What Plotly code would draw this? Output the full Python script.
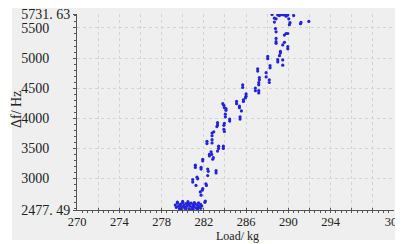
import plotly.graph_objects as go

# Load (kg) and frequency shift (Hz)
load_kg = [
    # low cluster
    279.3, 279.4, 279.5, 279.6, 279.7, 279.8, 279.9, 280.0, 280.1, 280.2,
    280.3, 280.4, 280.5, 280.6, 280.7, 280.8, 280.9, 281.0, 281.1, 281.2,
    281.3, 281.4, 281.5, 281.6, 281.7, 281.8, 279.5, 279.9, 280.2, 280.5,
    280.8, 281.1, 281.4, 281.7, 280.0, 280.6, 281.0, 281.5, 279.7, 280.3,
    279.8,
    # rising band
    282.15, 282.1, 281.74, 281.67, 281.9, 281.85, 282.2, 282.25, 280.95, 280.95,
    281.26, 281.36, 281.42, 281.2, 281.2, 281.74, 281.74, 281.9, 281.9, 282.37,
    282.42, 282.37, 283.16, 283.16, 282.53, 282.53, 282.69, 282.75, 282.9, 282.84,
    282.3, 282.3, 282.78, 282.78, 282.78, 282.78, 282.94, 283.3, 283.3, 283.24,
    283.4, 283.4, 283.3, 283.85, 283.85, 283.95, 283.9, 283.95, 283.9, 284.04,
    284.04, 284.1, 284.1, 283.8, 283.9, 283.95, 284.45, 284.45, 285.1, 285.1,
    285.37, 285.37, 285.56, 285.43, 285.43, 285.75, 285.75, 285.94, 286.0, 286.0,
    285.68, 285.68, 286.88, 286.88, 287.2, 287.2, 287.2, 287.2, 287.26, 287.26,
    287.1, 287.1, 287.9, 287.9, 288.2, 288.2, 288.27, 288.27, 288.05, 288.05,
    289.0, 289.0, 289.16, 289.25, 289.25, 289.47, 289.47, 289.47, 289.63, 289.95,
    289.95, 289.63, 289.79, 289.95, 288.84, 288.84, 288.84, 288.84, 288.78, 288.68,
    288.84, 288.68, 288.46, 289.0, 289.16, 289.37, 289.56, 289.72, 289.79, 289.95,
    290.04, 290.1, 290.16, 290.5, 291.15, 291.2, 291.94,
]
delta_f_hz = [
    # low cluster
    2560, 2520, 2590, 2540, 2500, 2575, 2530, 2600, 2555, 2510,
    2585, 2540, 2570, 2500, 2545, 2590, 2520, 2565, 2535, 2580,
    2510, 2555, 2595, 2530, 2570, 2545, 2610, 2490, 2525, 2615,
    2480, 2600, 2490, 2505, 2620, 2585, 2495, 2520, 2545, 2500,
    2477.49,
    # rising band
    2626, 2605, 2723, 2778, 2832, 2805, 2913, 2886, 2984, 2941,
    2886, 3022, 2995, 3222, 3184, 3184, 3157, 3320, 3293, 3157,
    3119, 3049, 3130, 3092, 3401, 3374, 3445, 3401, 3347, 3320,
    3618, 3580, 3645, 3591, 3754, 3710, 3775, 3889, 3927, 3862,
    3537, 3499, 3455, 3537, 3499, 3781, 3818, 3916, 3884, 4025,
    4068, 4133, 4160, 4242, 4215, 4177, 3987, 3954, 4280, 4242,
    4204, 4177, 4123, 4025, 3987, 4307, 4280, 4340, 4405, 4367,
    4556, 4513, 4502, 4459, 4459, 4421, 4594, 4556, 4676, 4638,
    4822, 4784, 4757, 4687, 4638, 4594, 4876, 4838, 5028, 4990,
    4974, 4936, 5039, 5110, 5083, 4969, 4882, 5218, 5261, 5191,
    5153, 5381, 5408, 5408, 5272, 5245, 5326, 5435, 5489, 5598,
    5652, 5663, 5722, 5717, 5706, 5722, 5717, 5722, 5695, 5717,
    5652, 5554, 5587, 5706, 5570, 5592, 5608,
]

x_tickvals = [270, 272, 274, 276, 278, 280, 282, 284, 286, 288, 290, 292, 294, 296, 298, 300]
x_ticktext = ["270", "", "274", "", "278", "", "282", "", "286", "", "290", "", "294", "", "", "300"]
y_tickvals = [2477.49, 3000, 3500, 4000, 4500, 5000, 5500, 5731.63]
y_ticktext = ["2477. 49", "3000", "3500", "4000", "4500", "5000", "5500", "5731. 63"]
x_title = "Load/ kg"
y_title = "Δf/ Hz"

NB = "\u00a0"
y_ticktext_padded = [t if len(t) > 4 else t + NB * 6 for t in y_ticktext]

# page has an 8px body margin; figure coordinates = page coordinates - 8
OFF = 8
W, H = 403 - OFF, 244 - OFF
L, R, T, B = 77 - OFF, 9, 14 - OFF, 34
pw, ph = W - L - R, H - T - B


def pagex(px):
    return (px - OFF - L) / pw


def pagey(py):
    return (H - B - (py - OFF)) / ph


fig = go.Figure()
fig.add_trace(go.Scatter(
    x=load_kg, y=delta_f_hz, mode="markers",
    marker=dict(size=3.2, color="#2323dc", line=dict(width=0)),
    showlegend=False, cliponaxis=True,
))

fig.add_shape(type="rect", xref="paper", yref="paper", layer="below",
              x0=pagex(12), x1=pagex(410), y0=pagey(240), y1=pagey(7),
              fillcolor="#efefef", line=dict(width=0))

font = dict(family="Liberation Serif, DejaVu Serif, serif", size=14, color="#222222")
xfont = dict(family="Liberation Serif, DejaVu Serif, serif", size=12.5, color="#222222")
tfont = dict(family="Liberation Serif, DejaVu Serif, serif", size=12, color="#222222")

fig.update_xaxes(
    range=[270, 300], tickmode="array", tickvals=x_tickvals, ticktext=x_ticktext,
    showgrid=True, gridcolor="#d4d4d4", griddash="dot", gridwidth=1,
    showline=True, linecolor="#555555", linewidth=1,
    ticks="inside", ticklen=2, tickcolor="#555555",
    minor=dict(tickmode="linear", tick0=270, dtick=0.5, ticks="outside", ticklen=2,
               tickcolor="#555555", showgrid=False),
    tickfont=xfont, zeroline=False, ticklabeloverflow="allow",
)
fig.update_yaxes(
    range=[2477.49, 5731.63], tickmode="array", tickvals=y_tickvals, ticktext=y_ticktext_padded,
    showgrid=True, gridcolor="#d4d4d4", griddash="dot", gridwidth=1,
    showline=True, linecolor="#555555", linewidth=1,
    ticks="outside", ticklen=3, tickcolor="#555555",
    minor=dict(tickmode="linear", tick0=0, dtick=100, ticks="outside", ticklen=2,
               tickcolor="#555555", showgrid=False),
    tickfont=font, zeroline=False, ticklabeloverflow="allow",
)
fig.add_annotation(text=x_title, xref="paper", yref="paper", x=pagex(237), y=pagey(236.5),
                   xanchor="center", yanchor="middle", showarrow=False, font=tfont, borderpad=0)
fig.add_annotation(text=y_title, xref="paper", yref="paper", x=pagex(16), y=pagey(110),
                   xanchor="center", yanchor="middle", showarrow=False, font=font, textangle=-90)
fig.update_layout(
    width=W, height=H, margin=dict(l=L, r=R, t=T, b=B, autoexpand=False),
    paper_bgcolor="white", plot_bgcolor="white",
)
fig.write_html("out.html")
